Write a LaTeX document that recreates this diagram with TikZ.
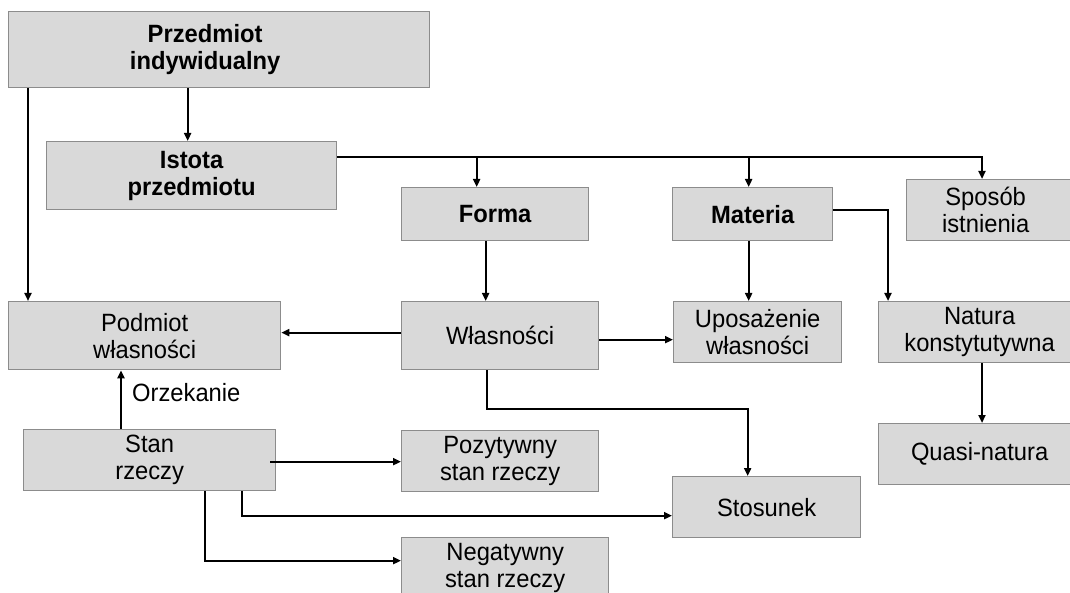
\documentclass[tikz,border=0pt]{standalone}
\usepackage{fontspec}
\setmainfont{Liberation Sans}[FakeStretch=0.95]
\usetikzlibrary{arrows.meta}
\definecolor{boxfill}{HTML}{D9D9D9}
\definecolor{boxline}{HTML}{8C8C8C}
\begin{document}
\begin{tikzpicture}[x=1pt,y=-1pt,
  box/.style={draw=boxline, fill=boxfill, line width=1.3pt, inner sep=0pt, anchor=north west,
    align=center, font=\fontsize{25}{27}\selectfont},
  bbox/.style={box, font=\fontsize{25}{27}\selectfont\bfseries},
  txt/.style={inner sep=0pt, align=center, font=\fontsize{25}{27}\selectfont},
  btxt/.style={txt, font=\fontsize{25}{27}\selectfont\bfseries},
  conn/.style={line width=2pt, -{Triangle[length=8pt,width=7pt]}},
  lbl/.style={font=\fontsize{25}{27}\selectfont, inner sep=0pt}]
\useasboundingbox (0,0) rectangle (1070,593);
\clip (0,0) rectangle (1070,593);
\fill[white] (0,0) rectangle (1070,593);

% boxes
\node[bbox, minimum width=421pt, minimum height=76pt,
  label={[btxt, xshift=-14pt]center:Przedmiot\\indywidualny}] (pi) at (8,11) {};
\node[bbox, minimum width=290pt, minimum height=68pt] (ist) at (46,141) {Istota\\przedmiotu};
\node[bbox, minimum width=187pt, minimum height=53pt] (forma) at (401,187) {Forma};
\node[bbox, minimum width=160pt, minimum height=53pt] (materia) at (672,187) {Materia};
\node[box, minimum width=174pt, minimum height=61pt,
  label={[txt, xshift=-8pt]center:Sposób\\istnienia}] (sposob) at (906,179) {};
\node[box, minimum width=272pt, minimum height=68pt] (podmiot) at (8,301) {Podmiot\\własności};
\node[box, minimum width=197pt, minimum height=68pt] (wlas) at (401,301) {Własności};
\node[box, minimum width=168pt, minimum height=61pt] (upos) at (673,301) {Uposażenie\\własności};
\node[box, minimum width=202pt, minimum height=61pt] (natura) at (878,301) {Natura\\konstytutywna};
\node[box, minimum width=202pt, minimum height=61pt] (quasi) at (878,423) {Quasi-natura};
\node[box, minimum width=252pt, minimum height=61pt] (stan) at (23,429) {Stan\\rzeczy};
\node[box, minimum width=197pt, minimum height=61pt] (pozyt) at (401,430) {Pozytywny\\stan rzeczy};
\node[box, minimum width=188pt, minimum height=61pt] (stos) at (672,476) {Stosunek};
\node[box, minimum width=207pt, minimum height=61pt] (negat) at (401,537) {Negatywny\\stan rzeczy};

% helper coordinates
\coordinate (a1) at ([xshift=-4pt]ist.north);
\coordinate (a2) at ([xshift=20pt]podmiot.north west);
\coordinate (a3) at ([yshift=19pt]ist.east);
\coordinate (f1) at ([xshift=-18.5pt]forma.north);
\coordinate (m1) at ([xshift=-4pt]materia.north);
\coordinate (s1) at ([xshift=76pt]sposob.north west);
\coordinate (w1) at ([xshift=-14.5pt]wlas.north);
\coordinate (n1) at ([xshift=10pt]natura.north west);
\coordinate (w2) at ([xshift=-13.5pt]wlas.south);
\coordinate (st1) at ([xshift=-19pt]stos.north);
\coordinate (q1) at ([xshift=104pt]natura.south west);
\coordinate (o1) at ([xshift=98pt]stan.north west);
\coordinate (x1) at ([xshift=219pt]stan.south west);
\coordinate (x2) at ([xshift=182pt]stan.south west);
\coordinate (wr) at ([yshift=-4pt]wlas.east);
\coordinate (sr) at ([xshift=-6pt,yshift=-1.5pt]stan.east);

% connectors
\draw[conn] (pi.south -| a1) -- (a1);
\draw[conn] (pi.south -| a2) -- (a2);
\draw[conn] (a3) -| (f1);
\draw[conn] (a3) -| (m1);
\draw[conn] (a3) -| (s1);
\draw[conn] (forma.south -| w1) -- (w1);
\draw[conn] (materia.south -| m1) -- (m1 |- upos.north);
\draw[conn] ([yshift=4.5pt]materia.east) -| (n1);
\draw[conn] ([yshift=3pt]wlas.west) -- ([yshift=3pt]podmiot.east);
\draw[conn] (wr) -- (wr -| upos.west);
\draw[conn] (w2) -- ++(0,39) -| (st1);
\draw[conn] (q1) -- (q1 |- quasi.north);
\draw[conn] (o1) -- (o1 |- podmiot.south);
\node[lbl, anchor=west] (orz) at (132,393) {Orzekanie};
\draw[conn] (sr) -- (sr -| pozyt.west);
\draw[conn] (x1) |- ([yshift=-8.5pt]stos.west);
\draw[conn] (x2) |- ([yshift=7.5pt]negat.west);
\end{tikzpicture}
\end{document}
